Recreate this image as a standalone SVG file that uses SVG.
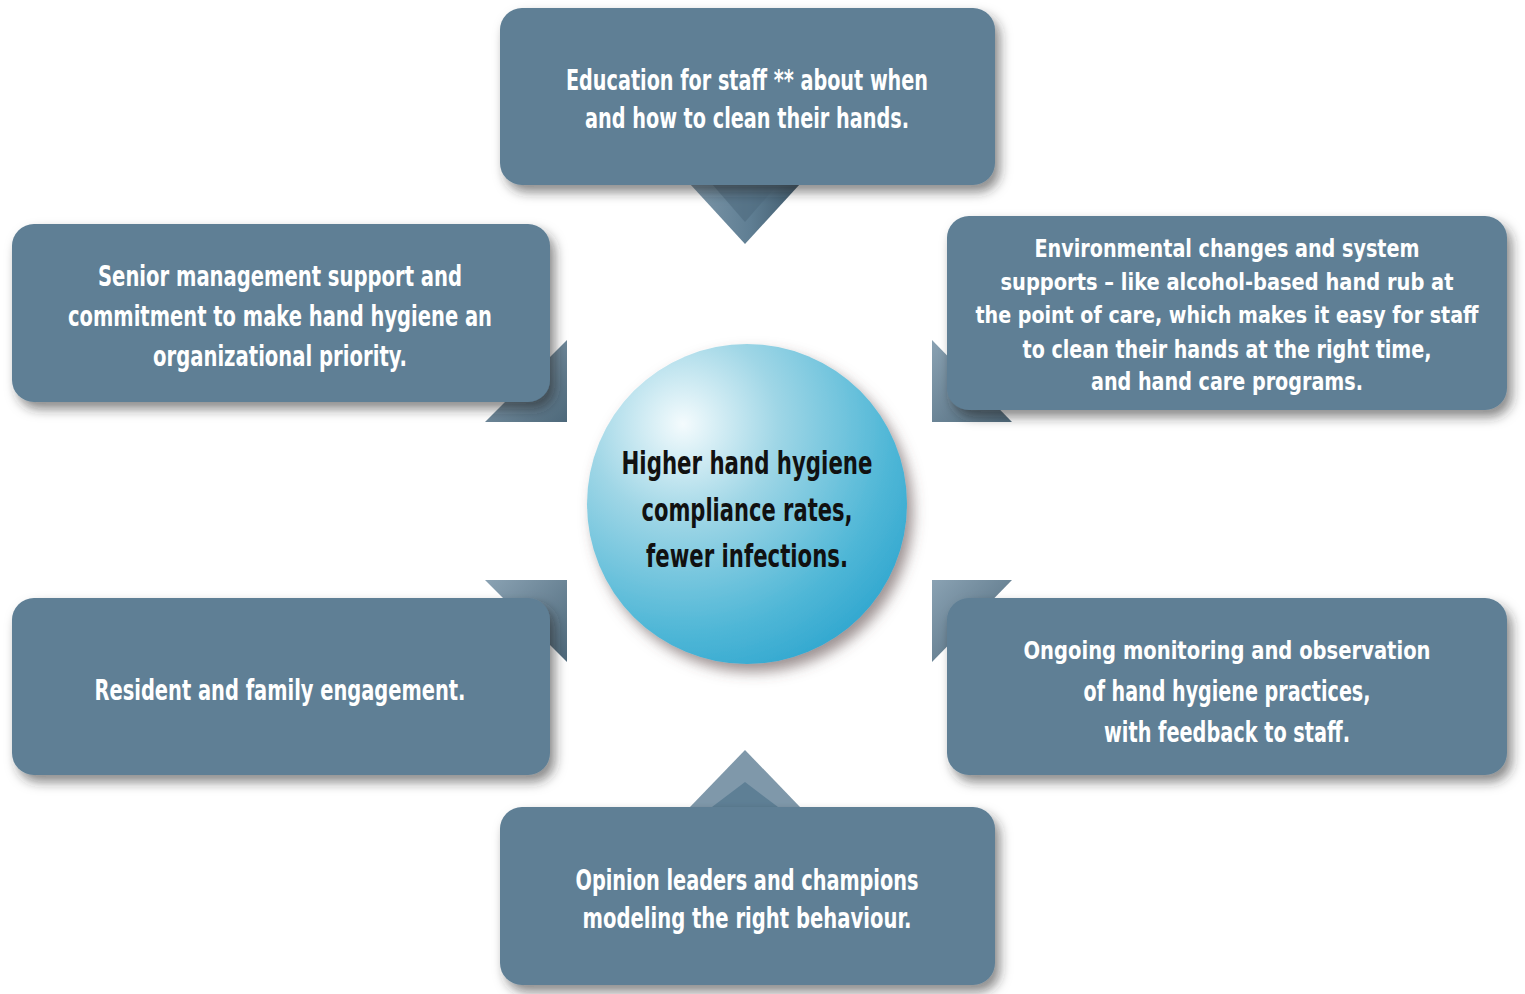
<svg xmlns="http://www.w3.org/2000/svg" width="1525" height="994" viewBox="0 0 1525 994">
<defs>
<style>
.box{fill:#5e7f95;filter:url(#sh)}
.t{font-family:"DejaVu Sans Condensed","DejaVu Sans",sans-serif;font-stretch:condensed;font-weight:bold;fill:#ffffff;text-anchor:middle;font-size:28px}
.s{font-size:25px}
.xs{font-size:23px}
.c{font-family:"DejaVu Sans Condensed","DejaVu Sans",sans-serif;font-stretch:condensed;font-weight:bold;fill:#111111;text-anchor:middle;font-size:32px}
.fold{fill:url(#fg)}
</style>
<filter id="sh" x="-10%" y="-10%" width="125%" height="135%">
<feDropShadow dx="5" dy="7" stdDeviation="6" flood-color="#2a2a2a" flood-opacity="0.55"/>
</filter>
<filter id="csh" x="-20%" y="-20%" width="145%" height="145%">
<feDropShadow dx="6" dy="8" stdDeviation="7" flood-color="#5a4a4a" flood-opacity="0.6"/>
</filter>
<radialGradient id="ball" cx="0.3" cy="0.25" r="0.85" fx="0.3" fy="0.25">
<stop offset="0" stop-color="#f4fbfd"/>
<stop offset="0.35" stop-color="#9fd6e6"/>
<stop offset="0.75" stop-color="#52b8d7"/>
<stop offset="1" stop-color="#2ea6cf"/>
</radialGradient>
<linearGradient id="fg" x1="0" y1="0" x2="1" y2="1">
<stop offset="0" stop-color="#8aa2b3"/>
<stop offset="1" stop-color="#4d687a"/>
</linearGradient>
<linearGradient id="pg" x1="0" y1="0" x2="1" y2="0">
<stop offset="0" stop-color="#7d97a9"/>
<stop offset="0.55" stop-color="#5f7e93"/>
<stop offset="1" stop-color="#3f596b"/>
</linearGradient>
</defs>
<rect width="1525" height="994" fill="#ffffff"/>
<g id="connectors">
<polygon points="690,184 800,184 745,244" fill="url(#pg)"/>
<polygon points="712,184 778,184 745,222" fill="#4f6b7e" opacity="0.6"/>
<polygon points="690,807 800,807 745,750" fill="#7f98aa"/>
<polygon points="712,807 778,807 745,782" fill="#5e7f95"/>
<polygon class="fold" points="567,340 567,422 485,422"/>
<polygon class="fold" points="932,340 932,422 1012,422"/>
<polygon class="fold" points="485,580 567,580 567,662"/>
<polygon class="fold" points="932,580 1012,580 932,662"/>
</g>
<g id="node-education">
<rect class="box" x="500" y="8" width="495" height="177" rx="22"/>
<text class="t" x="747" y="90" textLength="362" lengthAdjust="spacingAndGlyphs">Education for staff ** about when</text>
<text class="t" x="747" y="128" textLength="324" lengthAdjust="spacingAndGlyphs">and how to clean their hands.</text>
</g>
<g id="node-senior">
<rect class="box" x="12" y="224" width="538" height="178" rx="22"/>
<text class="t" x="280" y="286" textLength="364" lengthAdjust="spacingAndGlyphs">Senior management support and</text>
<text class="t" x="280" y="326" textLength="424" lengthAdjust="spacingAndGlyphs">commitment to make hand hygiene an</text>
<text class="t" x="280" y="366" textLength="254" lengthAdjust="spacingAndGlyphs">organizational priority.</text>
</g>
<g id="node-environment">
<rect class="box" x="947" y="216" width="560" height="194" rx="22"/>
<text class="t s" x="1227" y="257" textLength="385" lengthAdjust="spacingAndGlyphs">Environmental changes and system</text>
<text class="t xs" x="1227" y="290" textLength="453" lengthAdjust="spacingAndGlyphs">supports – like alcohol-based hand rub at</text>
<text class="t xs" x="1227" y="323" textLength="503" lengthAdjust="spacingAndGlyphs">the point of care, which makes it easy for staff</text>
<text class="t s" x="1227" y="358" textLength="409" lengthAdjust="spacingAndGlyphs">to clean their hands at the right time,</text>
<text class="t s" x="1227" y="390" textLength="272" lengthAdjust="spacingAndGlyphs">and hand care programs.</text>
</g>
<g id="node-resident">
<rect class="box" x="12" y="598" width="538" height="177" rx="22"/>
<text class="t" x="280" y="700" textLength="371" lengthAdjust="spacingAndGlyphs">Resident and family engagement.</text>
</g>
<g id="node-monitoring">
<rect class="box" x="947" y="598" width="560" height="177" rx="22"/>
<text class="t s" x="1227" y="659" textLength="407" lengthAdjust="spacingAndGlyphs">Ongoing monitoring and observation</text>
<text class="t" x="1227" y="701" textLength="287" lengthAdjust="spacingAndGlyphs">of hand hygiene practices,</text>
<text class="t" x="1227" y="742" textLength="246" lengthAdjust="spacingAndGlyphs">with feedback to staff.</text>
</g>
<g id="node-opinion">
<rect class="box" x="500" y="807" width="495" height="178" rx="22"/>
<text class="t" x="747" y="890" textLength="343" lengthAdjust="spacingAndGlyphs">Opinion leaders and champions</text>
<text class="t" x="747" y="928" textLength="329" lengthAdjust="spacingAndGlyphs">modeling the right behaviour.</text>
</g>
<g id="node-center">
<circle cx="747" cy="504" r="160" fill="url(#ball)" filter="url(#csh)"/>
<text class="c" x="747" y="474" textLength="251" lengthAdjust="spacingAndGlyphs">Higher hand hygiene</text>
<text class="c" x="747" y="521" textLength="211" lengthAdjust="spacingAndGlyphs">compliance rates,</text>
<text class="c" x="747" y="567" textLength="202" lengthAdjust="spacingAndGlyphs">fewer infections.</text>
</g>
</svg>
